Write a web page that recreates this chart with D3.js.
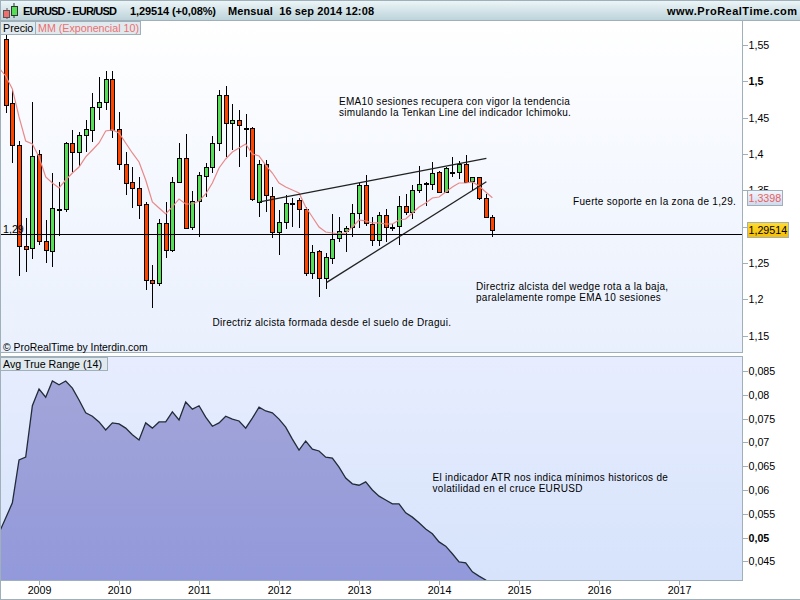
<!DOCTYPE html>
<html>
<head>
<meta charset="utf-8">
<script src="https://cdn.jsdelivr.net/npm/d3@7"></script>
<style>
html,body{margin:0;padding:0;background:#fff;overflow:hidden}
text{font-family:"Liberation Sans",Arial,sans-serif;fill:#000}
.note{font-size:10px;letter-spacing:.3px}
</style>
</head>
<body>
<script>
// monthly candles, first one is aug 2008
var opens=[1.5583,1.4702,1.4125,1.2735,1.2708,1.4001,1.2804,1.2667,1.3244,1.3244,1.4152,1.4028,1.4262,1.4331,1.4647,1.4716,1.5032,1.4345,1.3863,1.3616,1.3533,1.3313,1.2268,1.2226,1.3052,1.2680,1.3616,1.3946,1.2997,1.3354,1.3698,1.3822,1.4152,1.4812,1.4427,1.4468,1.4358,1.4358,1.3341,1.3863,1.3423,1.2928,1.3065,1.3327,1.3368,1.3244,1.2364,1.2667,1.2295,1.2570,1.2845,1.2942,1.2997,1.3189,1.3574,1.3038,1.2818,1.3162,1.2997,1.3010,1.3285,1.3203,1.3506,1.3602,1.3588,1.3753,1.3478,1.3753,1.3753,1.3863,1.3629,1.3684,1.3396,1.3134];
var highs=[1.5638,1.4881,1.4180,1.3120,1.4716,1.4056,1.3093,1.3739,1.3616,1.4166,1.4331,1.4303,1.4468,1.4840,1.5060,1.5142,1.5142,1.4578,1.4028,1.3822,1.3684,1.3341,1.2474,1.3107,1.3341,1.3684,1.4152,1.4276,1.3492,1.3753,1.3877,1.4248,1.4881,1.4936,1.4688,1.4606,1.4551,1.4372,1.3918,1.3918,1.3547,1.3230,1.3437,1.3396,1.3396,1.3272,1.2749,1.2680,1.2639,1.3175,1.3134,1.3010,1.3313,1.3602,1.3712,1.3134,1.3203,1.3244,1.3038,1.3423,1.3451,1.3574,1.3836,1.3616,1.3891,1.3767,1.3822,1.3960,1.3905,1.3987,1.3684,1.3684,1.3451,1.3162];
var lows=[1.4565,1.3877,1.2323,1.2378,1.2556,1.2749,1.2501,1.2447,1.2873,1.3203,1.3753,1.3822,1.4028,1.4166,1.4468,1.4606,1.4221,1.3781,1.3437,1.3258,1.3107,1.2130,1.1882,1.2185,1.2570,1.2653,1.3602,1.2969,1.2955,1.2859,1.3409,1.3739,1.4042,1.3960,1.4056,1.3822,1.3960,1.3354,1.3134,1.3203,1.2845,1.2611,1.2969,1.2997,1.2983,1.2323,1.2281,1.2034,1.2144,1.2488,1.2790,1.2653,1.2859,1.2983,1.3010,1.2735,1.2735,1.2790,1.2942,1.2749,1.3162,1.3107,1.3464,1.3285,1.3506,1.3464,1.3464,1.3684,1.3657,1.3602,1.3506,1.3368,1.3134,1.2859];
var closes=[1.4675,1.4125,1.2735,1.2700,1.3973,1.2804,1.2680,1.3258,1.3240,1.4152,1.4028,1.4262,1.4345,1.4647,1.4716,1.5032,1.4331,1.3863,1.3602,1.3533,1.3299,1.2268,1.2226,1.3052,1.2680,1.3616,1.3946,1.2983,1.3354,1.3712,1.3822,1.4152,1.4812,1.4427,1.4468,1.4400,1.4355,1.3382,1.3863,1.3437,1.2928,1.3065,1.3327,1.3324,1.3244,1.2364,1.2653,1.2295,1.2584,1.2832,1.2942,1.2983,1.3189,1.3574,1.3052,1.2818,1.3162,1.2997,1.2994,1.3285,1.3203,1.3506,1.3588,1.3599,1.3739,1.3478,1.3808,1.3750,1.3863,1.3616,1.3684,1.3396,1.3134,1.29514];
// these two start one month before the first candle
var ema10=[1.5184,1.5074,1.4895,1.4510,1.4180,1.4138,1.3960,1.3684,1.3602,1.3533,1.3643,1.3739,1.3822,1.3960,1.4056,1.4152,1.4317,1.4331,1.4290,1.4152,1.4015,1.3891,1.3643,1.3341,1.3258,1.3175,1.3272,1.3382,1.3313,1.3313,1.3354,1.3451,1.3602,1.3808,1.3932,1.4028,1.4083,1.4138,1.4001,1.3973,1.3849,1.3739,1.3602,1.3547,1.3506,1.3464,1.3272,1.3134,1.2997,1.2928,1.2914,1.2900,1.2914,1.2997,1.3093,1.3079,1.3052,1.3052,1.3038,1.3038,1.3093,1.3107,1.3189,1.3272,1.3327,1.3396,1.3409,1.3478,1.3547,1.3602,1.3602,1.3616,1.3561,1.3478,1.3398];
var atr14=[.0510,.0541,.0573,.0663,.0669,.0777,.0812,.0795,.0829,.0821,.0829,.0814,.0789,.0762,.0755,.0743,.0726,.0741,.0739,.0730,.0716,.0705,.0741,.0730,.0743,.0743,.0764,.0747,.0785,.0770,.0777,.0753,.0734,.0741,.0755,.0749,.0745,.0730,.0751,.0774,.0766,.0762,.0749,.0732,.0707,.0684,.0703,.0686,.0682,.0669,.0667,.0648,.0625,.0613,.0610,.0617,.0600,.0587,.0579,.0571,.0571,.0552,.0543,.0531,.0518,.0508,.0491,.0482,.0466,.0449,.0447,.0428,.0419,.0411,.0398];

var years=[2009,2010,2011,2012,2013,2014,2015,2016,2017];
var priceTicks=[1.55,1.5,1.45,1.4,1.35,1.3,1.25,1.2,1.15];
var atrTicks=[.085,.08,.075,.07,.065,.06,.055,.05,.045];
var supportLevel=1.29;
var lastPrice=1.29514, lastEma=1.3398;
// trend lines, [month index, price]
var wedgeTop=[[38.1,1.3341],[72.1,1.3941]];
var wedgeBottom=[[48.1,1.2231],[72.1,1.3619]];

var notes=[
 ["EMA10 sesiones recupera con vigor la tendencia",339,105],
 ["simulando la Tenkan Line del indicador Ichimoku.",339,116],
 ["Fuerte soporte en la zona de 1,29.",573,205],
 ["Directriz alcista del wedge rota a la baja,",476,290],
 ["paralelamente rompe EMA 10 sesiones",476,301],
 ["Directriz alcista formada desde el suelo de Dragui.",212.5,326],
 ["El indicador ATR nos indica mínimos historicos de",432.5,481],
 ["volatilidad en el cruce EURUSD",432.5,492]
];

var W=800,H=600,right=742;
var fontSize="10.7px";
var svg=d3.select("body").append("svg").attr("width",W).attr("height",H).style("display","block");
var defs=svg.append("defs");

function grad(id,c1,c2){
  var g=defs.append("linearGradient").attr("id",id).attr("x1",0).attr("x2",0).attr("y1",0).attr("y2",1);
  g.append("stop").attr("offset",0).attr("stop-color",c1);
  g.append("stop").attr("offset",1).attr("stop-color",c2);
}
grad("head","#eef7f8","#bdd3da");
grad("bg1","#ffffff","#e9f0fd");
grad("bg2","#e7edfe","#d6e3fb");
grad("area","#a2a5d8","#9198db");

var border="#9fb0bb";
function clip(id,y0,y1){
  defs.append("clipPath").attr("id",id).append("rect").attr("x",1).attr("y",y0).attr("width",right-1).attr("height",y1-y0);
}
clip("c1",21,352);
clip("c2",357,580);

var x=d3.scaleLinear().domain([0,110]).range([5.7,5.7+110*80/12]);
var yP=d3.scaleLinear().domain([1.55,1.15]).range([45,335.8]);
var yA=d3.scaleLinear().domain([.085,.045]).range([371,561.4]);

// frame
svg.append("rect").attr("x",0).attr("y",0).attr("width",W).attr("height",20).attr("fill","url(#head)");
svg.append("rect").attr("x",1).attr("y",21).attr("width",right-1).attr("height",331).attr("fill","url(#bg1)");
svg.append("rect").attr("x",1).attr("y",357).attr("width",right-1).attr("height",223).attr("fill","url(#bg2)");

// price panel
var p1=svg.append("g").attr("clip-path","url(#c1)");

var wick=p1.append("g").attr("shape-rendering","crispEdges");
wick.selectAll("line").data(opens).enter().append("line")
  .attr("x1",function(d,i){return Math.round(x(i))+.5})
  .attr("x2",function(d,i){return Math.round(x(i))+.5})
  .attr("y1",function(d,i){return Math.round(yP(highs[i]))})
  .attr("y2",function(d,i){return Math.round(yP(lows[i]))})
  .attr("stroke","#000");

var body=p1.append("g").attr("shape-rendering","crispEdges");
body.selectAll("rect").data(opens).enter().append("rect")
  .attr("x",function(d,i){return Math.round(x(i))-1.5})
  .attr("y",function(d,i){return Math.round(yP(Math.max(d,closes[i])))+.5})
  .attr("width",4)
  .attr("height",function(d,i){return Math.max(1,Math.round(yP(Math.min(d,closes[i])))-Math.round(yP(Math.max(d,closes[i]))))})
  .attr("fill",function(d,i){return closes[i]>d?"#55dd55":"#ff4400"})
  .attr("stroke","#000");

var emaLine=d3.line().x(function(d,i){return x(i-1)}).y(function(d){return yP(d)});
p1.append("path").attr("d",emaLine(ema10)).attr("fill","none").attr("stroke","#e98989").attr("stroke-width",1.2);

var trend=d3.line().x(function(d){return x(d[0])}).y(function(d){return yP(d[1])});
[wedgeTop,wedgeBottom].forEach(function(t){
  p1.append("path").attr("d",trend(t)).attr("fill","none").attr("stroke","#222").attr("stroke-width",1.3);
});

p1.append("text").attr("x",3).attr("y",yP(supportLevel)-1).style("font-size",fontSize).text("1,29");
p1.append("line").attr("x1",1).attr("x2",right).attr("y1",Math.round(yP(supportLevel))+.5).attr("y2",Math.round(yP(supportLevel))+.5)
  .attr("stroke","#000").attr("shape-rendering","crispEdges");

// atr panel
var p2=svg.append("g").attr("clip-path","url(#c2)");
var atrArea=d3.area().x(function(d,i){return x(i-1)}).y0(600).y1(function(d){return yA(d)});
var atrLine=d3.line().x(function(d,i){return x(i-1)}).y(function(d){return yA(d)});
p2.append("path").attr("d",atrArea(atr14)).attr("fill","url(#area)");
p2.append("path").attr("d",atrLine(atr14)).attr("fill","none").attr("stroke","#222b38").attr("stroke-width",1.3);

// borders
function hline(y,x1,x2){
  svg.append("line").attr("x1",x1).attr("x2",x2).attr("y1",y+.5).attr("y2",y+.5).attr("stroke",border).attr("shape-rendering","crispEdges");
}
function vline(xx,y1,y2){
  svg.append("line").attr("x1",xx+.5).attr("x2",xx+.5).attr("y1",y1).attr("y2",y2).attr("stroke",border).attr("shape-rendering","crispEdges");
}
hline(0,0,W);hline(20,0,W);hline(352,0,right);hline(356,0,right);hline(580,0,right);hline(599,0,W);
vline(0,0,H);vline(right,21,353);vline(right,356,581);

// axes, the 1,3 label sits under the yellow box in the picture so it stays blank
function comma(d){return d==1.3?"":String(d).replace(".",",")}
function yAxis(scale,ticks,bold){
  var g=svg.append("g").attr("transform","translate("+(right+.5)+",0)")
    .call(d3.axisRight(scale).tickValues(ticks).tickSize(5).tickPadding(1).tickFormat(comma));
  g.select(".domain").remove();
  g.selectAll("line").attr("stroke",border).attr("shape-rendering","crispEdges");
  g.selectAll("text").style("font-size",fontSize).style("font-family",'"Liberation Sans",Arial,sans-serif')
    .style("font-weight",function(d){return d==bold?"bold":"normal"});
}
yAxis(yP,priceTicks,1.5);
yAxis(yA,atrTicks,.05);

var xg=svg.append("g").attr("transform","translate(0,580.5)")
  .call(d3.axisBottom(x).tickValues(years.map(function(y){return (y-2009)*12+5})).tickSize(4).tickPadding(2)
    .tickFormat(function(d){return (d-5)/12+2009}));
xg.select(".domain").remove();
xg.selectAll("line").attr("stroke",border).attr("shape-rendering","crispEdges");
xg.selectAll("text").style("font-size",fontSize).style("font-family",'"Liberation Sans",Arial,sans-serif');

// value boxes on the axis
function valueBox(v,w,fill,color){
  var cy=yP(v);
  svg.append("rect").attr("x",747.5).attr("y",Math.round(cy)-7.5).attr("width",w).attr("height",15)
    .attr("fill",fill).attr("stroke",border).attr("shape-rendering","crispEdges");
  svg.append("text").attr("x",748.5).attr("y",Math.round(cy)+4).style("font-size",fontSize).style("fill",color)
    .text(String(v).replace(".",","));
}
grad("boxE","#f3f6fc","#cfd9ee");
grad("boxP","#ffdc33","#f5bd00");
valueBox(lastEma,35,"url(#boxE)","#e86060");
valueBox(lastPrice,41,"url(#boxP)","#000");

// panel tags
function tag(x0,y0,w,h,txt,color){
  svg.append("rect").attr("x",x0+.5).attr("y",y0+.5).attr("width",w).attr("height",h)
    .attr("fill","#dfe9ee").attr("stroke",border).attr("shape-rendering","crispEdges");
  svg.append("text").attr("x",x0+3).attr("y",y0+h-2).style("font-size",fontSize).style("fill",color).text(txt);
}
tag(0,21,35,13,"Precio","#000");
tag(35,21,105,13,"MM (Exponencial 10)","#ee6f6f");
tag(0,357,107,13,"Avg True Range (14)","#000");

// header, widths
function head(txt,xx,len){
  svg.append("text").attr("x",xx).attr("y",15).attr("textLength",len).attr("lengthAdjust","spacing")
    .attr("xml:space","preserve").style("font-size","11px").style("font-weight","bold").text(txt);
}
head("EURUSD - EUR/USD",23,94);
head("1,29514 (+0,08%)",130,86);
head("Mensual  16 sep 2014 12:08",228,146);
head("www.ProRealTime.com",667,130);
// little candle icon
svg.append("line").attr("x1",7).attr("x2",7).attr("y1",8).attr("y2",19).attr("stroke","#555");
svg.append("rect").attr("x",3.5).attr("y",10.5).attr("width",6).attr("height",7).attr("fill","#ee7070").attr("stroke","#555");
svg.append("line").attr("x1",14).attr("x2",14).attr("y1",3).attr("y2",18).attr("stroke","#333");
svg.append("rect").attr("x",11.5).attr("y",6.5).attr("width",6).attr("height",9).attr("fill","#55dd55").attr("stroke","#333");

// annotations
svg.selectAll(".note").data(notes).enter().append("text").attr("class","note")
  .attr("x",function(d){return d[1]}).attr("y",function(d){return d[2]}).text(function(d){return d[0]});
svg.append("text").attr("x",3).attr("y",351).style("font-size","10.4px").text("© ProRealTime by Interdin.com");
</script>
</body>
</html>
